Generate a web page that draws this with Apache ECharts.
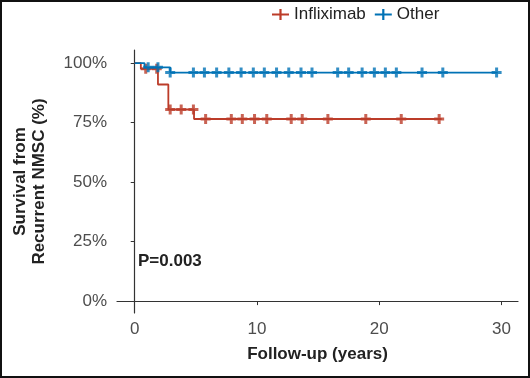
<!DOCTYPE html>
<html>
<head>
<meta charset="utf-8">
<script src="https://cdn.jsdelivr.net/npm/echarts@6/dist/echarts.min.js"></script>
<style>
html,body{margin:0;padding:0;background:#fff;}
#chart{width:530px;height:378px;}
</style>
</head>
<body>
<div id="chart"></div>
<script>
// Kaplan-Meier step points [years, survival %]
const inflixStep = [[0,100],[0.5,97.6],[1.9,91],[2.75,80.5],[4.85,76.5],[25.1,76.5]];
const otherStep = [[0,100],[0.8,98.2],[2.9,96],[29.7,96]];
// censoring times (years)
const inflixCensor = [0.9,1.8,2.9,3.8,4.8,5.8,7.9,8.8,9.8,10.8,12.8,13.7,15.8,18.9,21.8,24.9];
const otherCensor = [1.1,1.9,2.9,4.8,5.7,6.7,7.7,8.7,9.7,10.6,11.6,12.6,13.6,14.5,16.6,17.5,18.6,19.6,20.5,21.4,23.5,25.2,29.6];
const xTicks = [0,10,20,30];
const yTicks = [0,25,50,75,100];
const seriesNames = ['Infliximab','Other'];
const pText = 'P=0.003';

const RED = '#BC3C29', BLUE = '#0072B5';
const PLUS = 'path://M3.5,0H6.5V3.5H10V6.5H6.5V10H3.5V6.5H0V3.5H3.5Z';
const LEGEND_ICON = 'path://M0,5.1H17V6.9H0Z M7.4,0.5H9.6V11.5H7.4Z';

function stepValue(step, t){
  let v = step[0][1];
  for (const p of step){ if (p[0] <= t) v = p[1]; }
  return v;
}
const inflixMarks = inflixCensor.map(t => [t, stepValue(inflixStep, t)]);
const otherMarks = otherCensor.map(t => [t, stepValue(otherStep, t)]);

const chart = echarts.init(document.getElementById('chart'));
const axisColor = '#333';
const labelColor = '#4d4d4d';
chart.setOption({
  animation:false,
  backgroundColor:'#fff',
  grid:{left:117, right:12, top:50, bottom:65, containLabel:false},
  legend:{
    left:267, top:1, itemWidth:17, itemHeight:12, itemGap:9,
    textStyle:{fontFamily:'Liberation Sans', fontSize:17, color:'#222'},
    data:[{name:seriesNames[0], icon:LEGEND_ICON, itemStyle:{color:RED}},
          {name:seriesNames[1], icon:LEGEND_ICON, itemStyle:{color:BLUE}}]
  },
  xAxis:{
    type:'value', min:-1.45, max:31.35,
    name:'Follow-up (years)', nameLocation:'middle', nameGap:33,
    nameTextStyle:{fontFamily:'Liberation Sans', fontSize:17, fontWeight:'bold', color:'#222'},
    axisLine:{show:true, lineStyle:{color:axisColor, width:1.2}},
    axisTick:{show:true, length:4, customValues:xTicks, lineStyle:{color:axisColor}},
    axisLabel:{customValues:xTicks, margin:8, fontFamily:'Liberation Sans', fontSize:17, color:labelColor},
    splitLine:{show:false}
  },
  yAxis:{
    type:'value', min:-5, max:105.5,
    name:'Survival from\nRecurrent NMSC (%)', nameLocation:'middle', nameGap:68,
    nameTextStyle:{fontFamily:'Liberation Sans', fontSize:17, fontWeight:'bold', color:'#222', lineHeight:19},
    axisLine:{show:true, lineStyle:{color:axisColor, width:1.2}},
    axisTick:{show:true, length:4, customValues:yTicks, lineStyle:{color:axisColor}},
    axisLabel:{customValues:yTicks, margin:10, fontFamily:'Liberation Sans', fontSize:17, color:labelColor, formatter:'{value}%'},
    splitLine:{show:false}
  },
  series:[
    {name:seriesNames[0], type:'line', step:'end', data:inflixStep, showSymbol:false, lineStyle:{color:RED, width:1.8}, itemStyle:{color:RED}, z:2},
    {name:seriesNames[0], type:'scatter', data:inflixMarks, symbol:PLUS, symbolSize:10, itemStyle:{color:RED}, z:3},
    {name:seriesNames[1], type:'line', step:'end', data:otherStep, showSymbol:false, lineStyle:{color:BLUE, width:1.8}, itemStyle:{color:BLUE}, z:4},
    {name:seriesNames[1], type:'scatter', data:otherMarks, symbol:PLUS, symbolSize:10, itemStyle:{color:BLUE}, z:5}
  ],
  graphic:[
    {type:'text', left:138, top:253, style:{text:pText, fontFamily:'Liberation Sans', fontSize:17, fontWeight:'bold', fill:'#222'}},
    {type:'rect', shape:{x:1, y:1, width:528, height:376}, style:{fill:'none', stroke:'#111', lineWidth:2}, silent:true, z:100}
  ]
});
</script>
</body>
</html>
